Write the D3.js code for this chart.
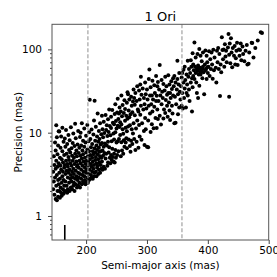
<!DOCTYPE html>
<html><head><meta charset="utf-8">
<script src="https://cdn.jsdelivr.net/npm/d3@7"></script>
<style>
html,body{margin:0;padding:0;background:#fff;}
svg{display:block;font-family:"DejaVu Sans",sans-serif;}
</style></head>
<body>
<svg id="chart" width="277" height="277"></svg>
<script>
const title = "1 Ori";
const xLabel = "Semi-major axis (mas)";
const yLabel = "Precision (mas)";
const xTicks = [200, 300, 400, 500];
const yTicks = [1, 10, 100];
const xDomain = [144, 500];
const yDomain = [0.515, 200];
const dashedLines = [203, 357.5];
const marker = {x: 165, top: 0.78};

const points = [
[146,2.1],[146,3.4],[147,5.2],[147,2.6],[148,1.8],[148,4.1],[149,7.6],[149,2.9],[150,1.6],[150,3.7],[150,6.1],[151,12.3],[151,2.3],[151,4.6],[152,1.55],[152,3.1],[152,8.8],[153,2.0],[153,5.5],[153,3.9],[154,2.7],[154,1.7],[154,7.0],[155,4.3],[155,10.4],[155,2.4],
[156,10.3],[156,2.0],[156,3.3],[157,1.65],[157,5.0],[157,2.8],[158,4.0],[158,6.6],[158,2.2],[159,1.9],[159,3.6],[159,9.0],[160,2.5],[160,4.8],[160,1.75],[161,3.0],[161,6.0],[161,11.5],[162,2.1],[162,4.4],[162,3.4],[163,1.85],[163,7.8],[163,2.7],[164,5.4],[164,3.8],[164,2.3],[165,4.1],[165,1.95],[165,8.5],
[166,2.6],[166,3.2],[166,6.8],[167,4.6],[167,2.0],[167,10.8],[168,3.5],[168,5.6],[168,2.3],[169,1.9],[169,4.2],[169,7.3],[170,2.9],[170,3.9],[170,2.1],[171,5.1],[171,9.4],[171,3.3],[172,2.5],[172,6.2],[172,4.7],[173,2.0],[173,3.6],[173,8.1],[174,2.8],[174,5.8],[174,4.3],[175,2.2],[175,3.1],[175,11.6],
[176,6.5],[176,2.6],[176,4.0],[177,3.4],[177,2.1],[177,5.3],[178,7.5],[178,2.9],[178,4.6],[179,2.3],[179,3.7],[179,9.8],[180,5.0],[180,2.5],[180,3.2],[181,6.9],[181,4.2],[181,2.0],[182,2.8],[182,5.6],[182,12.8],[183,3.5],[183,2.4],[183,8.6],[184,4.5],[184,3.0],[184,6.1],[185,2.2],[185,3.9],[185,5.2],
[186,2.7],[186,7.2],[186,4.1],[187,3.3],[187,10.5],[187,2.3],[188,5.7],[188,3.8],[188,2.9],[189,4.6],[189,2.5],[189,6.6],[190,3.2],[190,8.9],[190,2.2],[191,4.3],[191,10.0],[191,5.3],[192,2.8],[192,3.6],[192,7.0],[193,2.4],[193,4.9],[193,13.0],[194,3.1],[194,6.1],[194,4.0],[195,2.6],[195,5.5],[195,8.0],
[196,3.4],[196,2.5],[196,4.5],[197,6.8],[197,3.0],[197,11.2],[198,2.7],[198,5.0],[198,3.8],[199,4.2],[199,7.6],[199,2.4],[200,3.3],[200,5.8],[200,9.2],[201,2.6],[201,4.6],[201,3.6],[202,6.3],[202,2.9],[202,12.4],[203,4.0],[203,5.2],[203,2.5],[204,3.2],[204,7.9],[204,4.4],[205,2.7],[205,6.0],[205,10.1],
[206,3.6],[206,4.8],[206,24.8],[207,2.8],[207,8.4],[207,5.4],[208,3.1],[208,6.7],[208,4.2],[209,2.9],[209,10.9],[209,3.9],[210,5.0],[210,7.3],[210,3.4],[211,4.5],[211,2.8],[211,6.0],[212,9.5],[212,3.7],[212,5.5],[213,3.0],[213,4.1],[213,14.0],[214,24.2],[214,6.5],[214,3.3],[215,4.7],[215,8.0],[215,5.8],
[216,3.4],[216,5.1],[216,11.8],[217,4.3],[217,7.0],[217,3.0],[218,6.2],[218,3.8],[218,9.0],[219,5.5],[219,4.0],[219,17.0],[220,3.2],[220,7.8],[220,4.8],[221,6.6],[221,3.6],[221,10.5],[222,5.9],[222,4.4],[222,8.4],[223,3.3],[223,5.2],[223,13.0],[224,7.2],[224,4.1],[224,6.0],[225,3.7],[225,9.6],[225,5.0],
[226,4.5],[226,7.5],[226,16.0],[227,3.6],[227,6.1],[227,11.0],[228,5.3],[228,8.8],[229,6.8],[229,3.9],[229,13.5],[230,5.7],[230,9.9],[231,7.4],[231,3.7],[232,16.3],[232,4.9],[233,5.6],[233,10.8],[234,7.0],[234,12.3],[235,4.0],[235,9.1],
[236,4.4],[236,7.8],[236,14.5],[237,5.8],[237,10.2],[238,6.7],[238,19.0],[239,5.0],[239,12.0],[240,4.3],[240,9.3],[241,11.4],[241,5.4],[241,15.5],[242,7.9],[242,4.7],[243,18.7],[243,6.4],[244,5.1],[244,13.2],[245,4.5],[245,9.8],
[246,8.3],[246,5.6],[246,12.6],[247,16.8],[247,4.4],[248,10.1],[248,6.2],[248,22.0],[249,5.0],[249,13.8],[250,7.6],[250,11.2],[251,17.5],[251,5.4],[252,12.1],[252,7.9],[252,25.5],[253,6.0],[253,14.6],[254,17.0],[254,8.4],[255,11.7],[255,20.0],
[256,9.4],[256,13.3],[257,5.2],[257,18.0],[258,7.7],[258,28.0],[258,12.5],[259,6.1],[259,15.8],[260,11.0],[260,21.5],[261,9.7],[261,5.6],[262,17.2],[262,8.1],[263,24.5],[263,6.8],[264,13.9],[264,19.3],[265,7.6],[265,11.5],
[266,16.0],[266,8.6],[267,22.8],[267,10.4],[267,6.5],[268,14.7],[268,30.5],[269,29.0],[269,11.9],[270,18.4],[270,8.3],[271,25.0],[271,15.3],[272,6.9],[272,12.3],[273,5.9],[273,16.6],[274,8.0],[274,27.0],[275,11.0],[275,21.0],
[276,7.3],[276,17.6],[277,23.6],[277,9.8],[278,33.0],[278,13.0],[279,8.4],[279,26.0],[280,16.2],[280,21.6],[281,6.2],[281,30.0],[282,11.2],[283,24.0],[283,7.8],[284,36.0],[284,14.0],[285,19.0],
[286,6.6],[286,18.0],[287,12.4],[287,32.0],[288,25.0],[288,9.0],[289,38.0],[289,16.4],[290,47.0],[290,21.0],[291,8.2],[291,28.5],[292,13.0],[293,34.0],[294,19.0],[295,26.0],[295,10.5],
[296,7.1],[296,22.0],[297,40.0],[297,15.0],[298,29.0],[298,11.0],[299,19.5],[300,6.8],[300,33.0],[301,25.0],[302,6.7],[302,14.0],[303,44.0],[303,21.0],[304,57.5],[305,28.0],[305,17.0],
[306,10.2],[306,35.0],[307,22.0],[308,12.6],[308,28.0],[309,42.0],[309,18.0],[310,25.0],[311,11.3],[312,37.0],[312,20.5],[313,30.0],[314,15.0],[315,48.0],[315,24.0],
[316,11.4],[316,27.8],[317,36.0],[317,19.0],[318,14.6],[318,40.5],[319,24.0],[320,33.0],[321,65.0],[321,16.0],[322,28.0],[323,12.5],[324,43.0],[324,22.0],[325,31.0],
[326,26.0],[327,38.5],[327,14.8],[328,19.0],[329,32.0],[330,17.2],[330,47.0],[331,24.6],[332,36.0],[333,21.0],[333,28.5],[334,15.5],[335,49.0],[335,30.0],
[336,23.0],[337,38.0],[337,18.5],[338,30.0],[338,14.2],[339,26.0],[340,41.5],[341,21.0],[341,33.5],[342,17.0],[343,45.0],[343,28.0],[344,36.0],[345,13.0],[345,48.0],
[346,27.0],[347,13.2],[347,40.0],[348,22.0],[349,33.0],[350,44.0],[350,73.0],[351,16.6],[351,29.0],[352,38.0],[353,20.0],[353,52.0],[354,31.0],[355,25.0],
[356,36.0],[357,21.0],[357,46.0],[358,52.0],[358,30.0],[359,19.5],[360,40.0],[360,57.0],[361,26.0],[362,34.0],[362,62.0],[363,43.0],[364,20.0],[365,30.0],[365,50.0],
[366,38.0],[367,73.0],[367,28.0],[368,47.0],[369,58.0],[369,33.0],[370,24.0],[371,52.0],[372,74.0],[372,40.0],[373,62.0],[374,18.0],[374,45.0],[375,90.0],[375,35.0],
[376,48.0],[376,66.0],[377,56.0],[378,121.0],[378,44.0],[379,62.0],[380,80.0],[380,52.0],[381,40.0],[382,58.0],[382,30.0],[383,88.0],[383,55.0],[384,64.0],[384,26.0],[384,57.0],[385,50.0],[385,60.0],
[386,36.6],[386,101.0],[387,60.0],[388,84.0],[388,50.0],[388,53.0],[389,57.0],[390,72.0],[391,45.0],[391,58.0],[392,92.0],[392,62.0],[393,53.0],[394,29.0],[395,66.0],
[396,97.0],[396,56.0],[397,58.0],[398,84.0],[398,44.0],[399,70.0],[399,61.0],[400,52.0],[401,62.0],[402,95.0],[403,48.0],[404,76.0],[405,58.0],
[406,92.0],[407,66.0],[408,44.5],[409,99.0],[410,56.0],[411,80.0],[413,60.0],[414,40.0],[415,96.0],
[416,70.0],[417,104.0],[418,58.0],[419,88.0],[420,27.5],[421,66.0],[422,53.0],[423,140.0],[424,98.0],[425,76.0],
[426,100.0],[427,62.0],[428,115.0],[429,82.0],[430,96.0],[431,70.0],[433,105.0],[434,153.0],[435,27.0],[435,86.0],
[436,118.0],[437,68.0],[438,136.0],[439,92.0],[440,61.0],[441,104.0],[443,84.0],[444,110.0],[445,66.0],
[446,78.0],[447,96.0],[448,120.0],[449,65.0],[451,100.0],[452,84.0],[453,98.0],[454,118.0],[455,74.0],
[457,108.0],[458,88.0],[460,72.0],[462,96.0],[464,113.0],[465,66.0],[467,67.0],[468,92.0],[472,120.0],[473,119.0],[475,80.0],[478,104.0],[482,128.0],[487,160.0],[489,157.0]
];

const svg = d3.select("#chart");
const m = {left: 52, right: 268.7, top: 24.3, bottom: 240};
const x = d3.scaleLinear().domain(xDomain).range([m.left, m.right]);
const y = d3.scaleLog().domain(yDomain).range([m.bottom, m.top]);

const plot = svg.append("g");
plot.append("defs").append("clipPath").attr("id","clip")
  .append("rect").attr("x", m.left).attr("y", m.top)
  .attr("width", m.right - m.left).attr("height", m.bottom - m.top);

const g = plot.append("g").attr("clip-path","url(#clip)");
g.selectAll("circle").data(points).join("circle")
  .attr("cx", d => x(d[0])).attr("cy", d => y(d[1]))
  .attr("r", 2).attr("fill", "#000");

g.selectAll("line.dash").data(dashedLines).join("line").attr("class","dash")
  .attr("x1", d => x(d)).attr("x2", d => x(d))
  .attr("y1", m.top).attr("y2", m.bottom)
  .attr("stroke", "#999").attr("stroke-width", 1.1).attr("stroke-dasharray", "4,2");

g.append("line")
  .attr("x1", x(marker.x)).attr("x2", x(marker.x))
  .attr("y1", y(yDomain[0])).attr("y2", y(marker.top))
  .attr("stroke", "#000").attr("stroke-width", 1.6);

// axes
const xAxis = d3.axisBottom(x).tickValues(xTicks).tickSize(4).tickPadding(3).tickFormat(d3.format("d"));
const gx = svg.append("g").attr("transform", `translate(0,${m.bottom})`).call(xAxis);
gx.select(".domain").remove();
gx.selectAll("text").attr("font-size", 10.5).attr("fill","#000").attr("font-family","DejaVu Sans");
gx.selectAll("line").attr("stroke","#444");

const minor = [];
for (let e = -1; e <= 2; e++) for (let k = 2; k <= 9; k++) {
  const v = k * Math.pow(10, e);
  if (v > yDomain[0] && v < yDomain[1]) minor.push(v);
}
const yAxisMinor = d3.axisLeft(y).tickValues(minor).tickSize(2).tickFormat("");
const gym = svg.append("g").attr("transform", `translate(${m.left},0)`).call(yAxisMinor);
gym.select(".domain").remove();
gym.selectAll("line").attr("stroke","#444");

const yAxis = d3.axisLeft(y).tickValues(yTicks).tickSize(4).tickPadding(6).tickFormat(d3.format("d"));
const gy = svg.append("g").attr("transform", `translate(${m.left},0)`).call(yAxis);
gy.select(".domain").remove();
gy.selectAll("text").attr("font-size", 10.5).attr("fill","#000").attr("font-family","DejaVu Sans");
gy.selectAll("line").attr("stroke","#444");

svg.append("rect").attr("x", m.left).attr("y", m.top)
  .attr("width", m.right - m.left).attr("height", m.bottom - m.top)
  .attr("fill","none").attr("stroke","#555").attr("stroke-width",1);

svg.append("text").attr("x", (m.left + m.right)/2).attr("y", 20.5)
  .attr("text-anchor","middle").attr("font-size", 13).text(title);
svg.append("text").attr("x", (m.left + m.right)/2).attr("y", 269)
  .attr("text-anchor","middle").attr("font-size", 10.5).text(xLabel);
svg.append("text").attr("transform", `translate(21.5,${(m.top+m.bottom)/2}) rotate(-90)`)
  .attr("text-anchor","middle").attr("font-size", 10.5).text(yLabel);
</script>
</body></html>
